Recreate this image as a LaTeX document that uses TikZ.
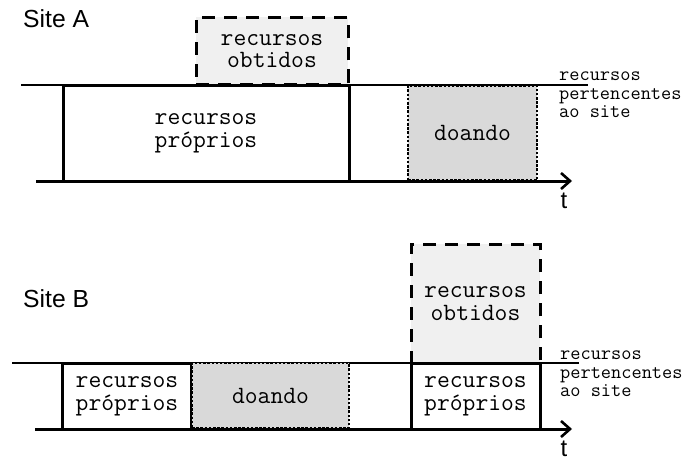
\documentclass[tikz,border=0pt]{standalone}
\usepackage{fontspec}
\setmainfont{Liberation Sans}
\usetikzlibrary{arrows.meta}
\definecolor{obtfill}{HTML}{F0F0F0}
\definecolor{doafill}{HTML}{D9D9D9}
\tikzset{
  thinline/.style={line width=1.1pt},
  axisline/.style={line width=3pt,-{Straight Barb[length=9pt,width=16pt,line width=2.6pt]}},
  propbox/.style={draw,line width=3pt,fill=white,inner sep=0pt,align=center,
     font=\ttfamily\fontsize{24.9}{22.6}\selectfont},
  obtbox/.style={draw,line width=3pt,dash pattern=on 13pt off 9pt,fill=obtfill,inner sep=0pt,align=center,
     font=\ttfamily\fontsize{24.9}{22.6}\selectfont},
  doabox/.style={draw,line width=2.6pt,dash pattern=on 2.5pt off 1.7pt,fill=doafill,inner sep=0pt,align=center,
     font=\ttfamily\fontsize{24.9}{22.6}\selectfont},
  sitelabel/.style={anchor=base west,inner sep=0pt,font=\fontsize{24.7}{26}\selectfont},
  tlabel/.style={anchor=base,inner sep=0pt,font=\fontsize{24}{26}\selectfont},
  ownlabel/.style={anchor=base west,inner sep=0pt,align=left,
     font=\ttfamily\fontsize{19.8}{18.3}\selectfont}
}
\begin{document}
\begin{tikzpicture}[x=1pt,y=-1pt]
\useasboundingbox (0,0) rectangle (696,460);
% ---------- Site A ----------
\node[sitelabel] (siteA) at (23,28) {Site A};
\coordinate (la0) at (21,85);
\coordinate (la1) at (588,85);
\draw[thinline] (la0) -- (la1);
\node[obtbox,minimum width=152pt,minimum height=67pt] (obtA) at (272,51) {recursos\\obtidos};
\node[propbox,minimum width=286pt,minimum height=96pt] (propA) at (206,133) {recursos\\próprios};
\node[doabox,minimum width=129pt,minimum height=95pt] (doaA) at (472.5,133) {doando};
\coordinate (aa0) at (36,181);
\coordinate (aa1) at (572,181);
\draw[axisline] (aa0) -- (aa1);
\node[tlabel] (tA) at (564,208) {t};
\node[ownlabel] (ownA) at (559,117.5) {recursos\\pertencentes\\ao site};
% ---------- Site B ----------
\node[sitelabel] (siteB) at (23,307) {Site B};
\coordinate (lb0) at (12,363);
\coordinate (lb1) at (579,363);
\draw[thinline] (lb0) -- (lb1);
\node[propbox,minimum width=129pt,minimum height=66pt] (propB1) at (127,396) {recursos\\próprios};
\node[doabox,minimum width=157pt,minimum height=65pt] (doaB) at (270.5,395.5) {doando};
\node[obtbox,minimum width=129pt,minimum height=119pt] (obtB) at (475.5,303.5) {recursos\\obtidos};
\node[propbox,minimum width=129pt,minimum height=66pt] (propB2) at (475.5,396) {recursos\\próprios};
\coordinate (ab0) at (35,429);
\coordinate (ab1) at (572,429);
\draw[axisline] (ab0) -- (ab1);
\node[tlabel] (tB) at (564,456) {t};
\node[ownlabel] (ownB) at (560,396.5) {recursos\\pertencentes\\ao site};
\end{tikzpicture}
\end{document}
